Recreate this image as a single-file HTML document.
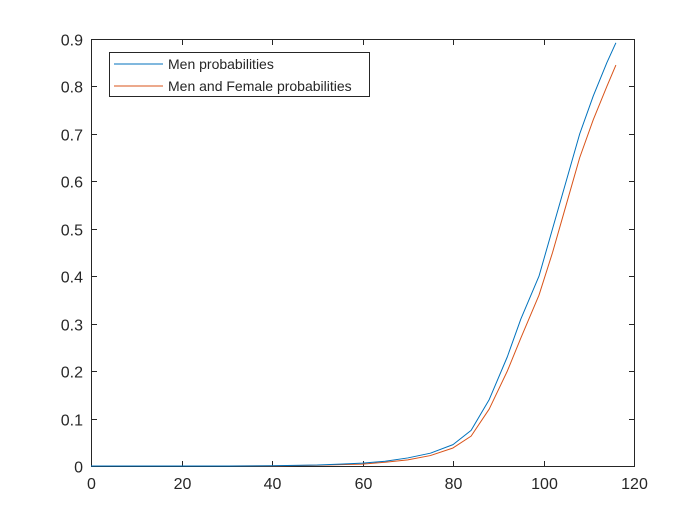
<!DOCTYPE html>
<html><head><meta charset="utf-8"><style>
body{margin:0;background:#fff;width:700px;height:525px;overflow:hidden}
text{font-family:"Liberation Sans",sans-serif;font-size:14px;fill:#262626}
.tick{font-size:16px}
</style></head><body>
<svg id="chart" width="700" height="525">
<rect x="0" y="0" width="700" height="525" fill="#fff"/>
<g id="axes"></g>
<g id="series"></g>
<g id="legend">
<rect x="109.5" y="52.5" width="260" height="44" fill="#fff" stroke="#262626" stroke-width="1"/>
<line x1="114" y1="64" x2="163" y2="64" stroke="#0072BD"/>
<text x="168" y="69">Men probabilities</text>
<line x1="114" y1="86" x2="163" y2="86" stroke="#D95319"/>
<text x="168" y="91">Men and Female probabilities</text>
</g>
</svg>
<script>
const ages=[0,10,20,30,40,50,55,60,65,70,75,80,84,88,92,95,99,102,105,108,111,114,116];
const menValues=[0,0,0,0,0.0005,0.002,0.004,0.006,0.010,0.017,0.027,0.045,0.075,0.14,0.23,0.31,0.40,0.50,0.60,0.70,0.78,0.85,0.892];
const combinedValues=[0,0,0,0,0.0003,0.0015,0.003,0.004,0.008,0.013,0.022,0.038,0.063,0.12,0.2,0.27,0.36,0.45,0.55,0.65,0.73,0.80,0.845];
const xTicks=[0,20,40,60,80,100,120];
const yTicks=[0,0.1,0.2,0.3,0.4,0.5,0.6,0.7,0.8,0.9];
const L=91,R=634,T=39,B=466;
const xs=v=>L+(v-0)/120*(R-L);
const ys=v=>B-v/0.9*(B-T);
const NS='http://www.w3.org/2000/svg';
const ax=document.getElementById('axes');
function mk(tag,attrs,parent){const e=document.createElementNS(NS,tag);for(const k in attrs)e.setAttribute(k,attrs[k]);parent.appendChild(e);return e;}
const box=mk('rect',{x:L+0.5,y:T+0.5,width:R-L,height:B-T,fill:'none',stroke:'#262626'},ax);


xTicks.forEach(t=>{const x=Math.round(xs(t))+0.5;
mk('line',{x1:x,y1:B,x2:x,y2:B-5,stroke:'#262626'},ax);
mk('line',{x1:x,y1:T+1,x2:x,y2:T+6,stroke:'#262626'},ax);
const tx=mk('text',{x:x,y:B+23,'text-anchor':'middle','class':'tick'},ax);tx.textContent=t;

});
yTicks.forEach(t=>{const y=Math.round(ys(t))+0.5;
mk('line',{x1:L+1,y1:y,x2:L+6,y2:y,stroke:'#262626'},ax);
mk('line',{x1:R,y1:y,x2:R-5,y2:y,stroke:'#262626'},ax);
const tx=mk('text',{x:L-8,y:y+6,'text-anchor':'end','class':'tick'},ax);tx.textContent=t===0?'0':t.toFixed(1);

});
const sg=document.getElementById('series');
function line(vals,color,name){const p=mk('polyline',{points:ages.map((a,i)=>xs(a)+','+ys(vals[i])).join(' '),fill:'none',stroke:color,'stroke-width':1,'stroke-linejoin':'round'},sg);

}
line(combinedValues,'#D95319','combined-probabilities-line');
line(menValues,'#0072BD','men-probabilities-line');
</script>
</body></html>
